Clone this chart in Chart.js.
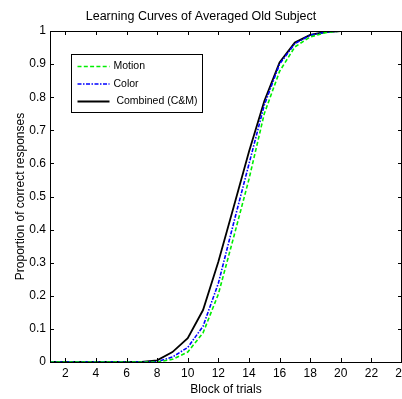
<!DOCTYPE html>
<html>
<head>
<meta charset="utf-8">
<script src="https://cdn.jsdelivr.net/npm/chart.js@4.4.1/dist/chart.umd.min.js"></script>
<style>
  html, body { margin: 0; padding: 0; background: #fff; }
  #wrap { width: 402px; height: 399px; }
</style>
</head>
<body>
<div id="wrap"><canvas id="c" width="402" height="399"></canvas></div>
<script>
// Block numbers and proportion of correct responses per condition
const blocks   = [1, 2, 3, 4, 5, 6, 7, 8, 9, 10, 11, 12, 13, 14, 15, 16, 17, 18, 19, 20];
const motion   = [0, 0, 0, 0, 0, 0, 0, 0, 0.008, 0.030, 0.088, 0.205, 0.377, 0.552, 0.750, 0.878, 0.952, 0.982, 0.995, 1.0];
const color    = [0, 0, 0, 0, 0, 0, 0, 0.001, 0.015, 0.044, 0.108, 0.238, 0.420, 0.598, 0.776, 0.900, 0.962, 0.987, 0.996, 1.0];
const combined = [0, 0, 0, 0, 0, 0, 0, 0.005, 0.030, 0.072, 0.157, 0.303, 0.468, 0.635, 0.788, 0.905, 0.965, 0.988, 0.997, 1.0];

const seriesLabels = ['Motion', 'Color', ' Combined (C&M)'];
const xTickValues = [2, 4, 6, 8, 10, 12, 14, 16, 18, 20, 22, 24];
const yTickValues = [0, 0.1, 0.2, 0.3, 0.4, 0.5, 0.6, 0.7, 0.8, 0.9, 1];

const FONT = '"Liberation Sans", Arial, sans-serif';

function points(ys) { return blocks.map((b, i) => ({ x: b, y: ys[i] })); }

// Box frame, inward tick marks on all four sides, and the boxed legend
const framePlugin = {
  id: 'frame',
  afterDatasetsDraw(chart) {
    const { ctx, chartArea: a, scales } = chart;
    const tl = 4;
    ctx.save();
    ctx.strokeStyle = '#000';
    ctx.lineWidth = 1;
    ctx.setLineDash([]);
    ctx.beginPath();
    scales.x.ticks.forEach(t => {
      const px = Math.round(scales.x.getPixelForValue(t.value)) + 0.5;
      ctx.moveTo(px, a.bottom); ctx.lineTo(px, a.bottom - tl);
      ctx.moveTo(px, a.top); ctx.lineTo(px, a.top + tl);
    });
    scales.y.ticks.forEach(t => {
      const py = Math.round(scales.y.getPixelForValue(t.value)) + 0.5;
      ctx.moveTo(a.left, py); ctx.lineTo(a.left + tl, py);
      ctx.moveTo(a.right, py); ctx.lineTo(a.right - tl, py);
    });
    ctx.stroke();
    ctx.strokeRect(Math.round(a.left) + 0.5, Math.round(a.top) + 0.5,
                   Math.round(a.right - a.left) - 1, Math.round(a.bottom - a.top));

    // legend
    const bx = Math.round(a.left + 21) + 0.5, by = Math.round(a.top + 23) + 0.5;
    const bw = 131, bh = 58;
    ctx.fillStyle = '#fff';
    ctx.fillRect(bx, by, bw, bh);
    ctx.strokeRect(bx, by, bw, bh);
    ctx.font = '10.5px ' + FONT;
    ctx.textBaseline = 'middle';
    ctx.textAlign = 'left';
    chart.data.datasets.forEach((ds, i) => {
      const y = by + 12 + i * 17.5;
      ctx.strokeStyle = ds.borderColor;
      ctx.lineWidth = ds.borderWidth;
      ctx.setLineDash(ds.borderDash || []);
      ctx.beginPath();
      ctx.moveTo(bx + 6, y); ctx.lineTo(bx + 38, y);
      ctx.stroke();
      ctx.setLineDash([]);
      ctx.fillStyle = '#000';
      ctx.fillText(ds.label, bx + 42, y);
    });
    ctx.restore();
  }
};

new Chart(document.getElementById('c'), {
  type: 'line',
  data: {
    datasets: [
      { label: seriesLabels[0], data: points(motion), borderColor: '#00ee00', borderWidth: 1.6,
        borderDash: [4, 2.3], pointRadius: 0, tension: 0 },
      { label: seriesLabels[1], data: points(color), borderColor: '#0000ff', borderWidth: 1.6,
        borderDash: [4, 1.5, 1.5, 1.5], pointRadius: 0, tension: 0 },
      { label: seriesLabels[2], data: points(combined), borderColor: '#000000', borderWidth: 1.8,
        pointRadius: 0, tension: 0 }
    ]
  },
  options: {
    responsive: false,
    animation: false,
    events: [],
    layout: { padding: 0 },
    plugins: {
      legend: { display: false },
      tooltip: { enabled: false },
      title: {
        display: true,
        text: 'Learning Curves of Averaged Old Subject',
        color: '#000',
        font: { family: FONT, size: 12.5, weight: 'normal' },
        padding: { top: 9, bottom: 7 }
      }
    },
    scales: {
      x: {
        type: 'linear',
        min: 1, max: 24,
        grid: { display: false, drawTicks: false },
        border: { display: false },
        afterBuildTicks(s) { s.ticks = xTickValues.map(v => ({ value: v })); },
        afterFit(s) { s.height = 37; s.paddingLeft = 0; s.paddingRight = 0; },
        ticks: {
          color: '#000', padding: 4, maxRotation: 0, autoSkip: false,
          font: { family: FONT, size: 12 },
          callback: v => String(v)
        },
        title: {
          display: true, text: 'Block of trials', color: '#000',
          font: { family: FONT, size: 12 }, padding: { top: 0, bottom: 2 }
        }
      },
      y: {
        type: 'linear',
        min: 0, max: 1,
        grid: { display: false, drawTicks: false },
        border: { display: false },
        afterBuildTicks(s) { s.ticks = yTickValues.map(v => ({ value: v })); },
        afterFit(s) { s.width = 50; s.paddingTop = 0; s.paddingBottom = 0; },
        ticks: {
          color: '#000', padding: 4, autoSkip: false,
          font: { family: FONT, size: 12 },
          callback: v => String(Number(v.toFixed(1)))
        },
        title: {
          display: true, text: 'Proportion of correct responses', color: '#000',
          font: { family: FONT, size: 12 }, padding: { top: 13, bottom: 0 }
        }
      }
    }
  },
  plugins: [framePlugin]
});
</script>
</body>
</html>
